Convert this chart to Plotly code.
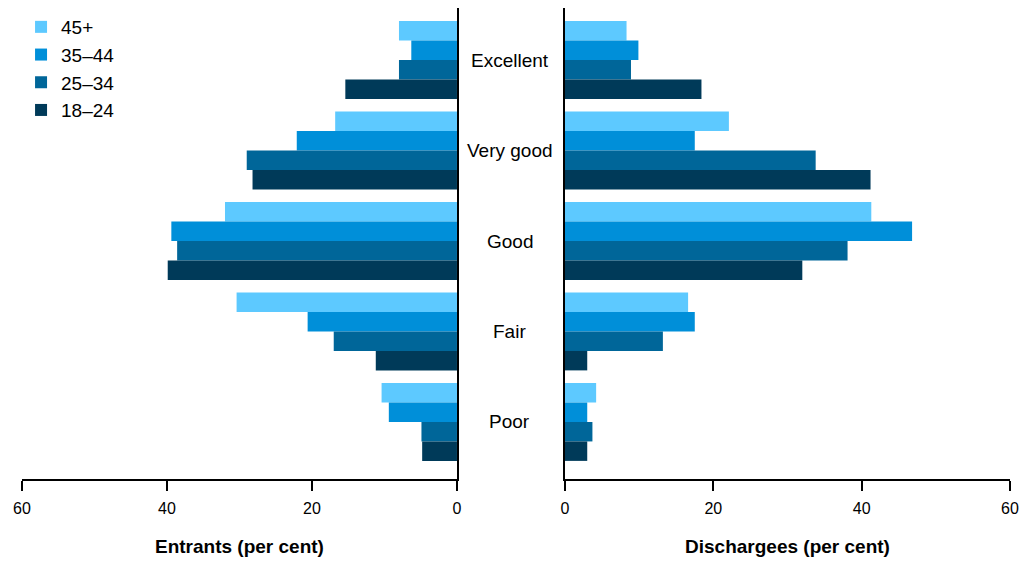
import plotly.graph_objects as go

categories = ["Excellent", "Very good", "Good", "Fair", "Poor"]
age_groups = ["45+", "35\u201344", "25\u201334", "18\u201324"]

# entrants (per cent), per age group, Excellent -> Poor
entrants = {
    "45+": [8.0, 16.8, 32.0, 30.4, 10.4],
    "35\u201344": [6.3, 22.1, 39.4, 20.6, 9.4],
    "25\u201334": [8.0, 29.0, 38.6, 17.0, 4.9],
    "18\u201324": [15.4, 28.2, 39.9, 11.2, 4.8],
}

# dischargees (per cent)
dischargees = {
    "45+": [8.3, 22.1, 41.3, 16.6, 4.2],
    "35\u201344": [9.9, 17.5, 46.8, 17.5, 3.0],
    "25\u201334": [8.9, 33.8, 38.1, 13.2, 3.7],
    "18\u201324": [18.4, 41.2, 32.0, 3.0, 3.0],
}

colors = {
    "45+": "#5DC9FF",
    "35\u201344": "#008FD9",
    "25\u201334": "#006699",
    "18\u201324": "#003A59",
}

FONT = "Liberation Sans, Arial, sans-serif"

fig = go.Figure()
for g in age_groups:
    fig.add_trace(go.Bar(
        y=categories, x=entrants[g], orientation="h",
        name=g, legendgroup=g,
        marker=dict(color=colors[g], line=dict(width=0)),
        xaxis="x", yaxis="y",
    ))
    fig.add_trace(go.Bar(
        y=categories, x=dischargees[g], orientation="h",
        name=g, legendgroup=g, showlegend=False,
        marker=dict(color=colors[g], line=dict(width=0)),
        xaxis="x2", yaxis="y2",
    ))

# category labels in the gap between panels
for c in categories:
    fig.add_annotation(
        x=0.4926, xref="paper", y=c, yref="y",
        text=c, showarrow=False,
        font=dict(size=19, color="black", family=FONT),
    )

axis_common = dict(
    tickvals=[0, 20, 40, 60],
    ticks="outside", ticklen=10, tickwidth=1.5, tickcolor="black",
    ticklabelstandoff=4,
    showline=True, linecolor="black", linewidth=1.5,
    showgrid=False, zeroline=False, automargin=False,
    tickfont=dict(size=16, color="black", family=FONT),
)

yaxis_common = dict(
    categoryorder="array", categoryarray=categories,
    range=[4.63, -0.575],
    showticklabels=False, ticks="",
    showgrid=False, zeroline=False, automargin=False,
    showline=True, linecolor="black", linewidth=2,
    domain=[0.1483, 1.0],
)

# page body has an 8px margin, so the figure is a bit smaller than the window
fig.update_layout(
    width=1019, height=553,
    margin=dict(l=0, r=0, t=0, b=0, autoexpand=False),
    plot_bgcolor="white", paper_bgcolor="white",
    barmode="group", bargap=0.14, bargroupgap=0,
    font=dict(family=FONT, size=16, color="black"),
    xaxis=dict(
        **axis_common,
        range=[60, 0], domain=[0.01374, 0.4406], anchor="y",
        title=dict(text="<b>Entrants (per cent)</b>", standoff=24,
                   font=dict(size=19, family=FONT)),
    ),
    xaxis2=dict(
        **axis_common,
        range=[0, 60], domain=[0.5466, 0.9833], anchor="y2",
        title=dict(text="<b>Dischargees (per cent)</b>", standoff=24,
                   font=dict(size=19, family=FONT)),
    ),
    yaxis=dict(**yaxis_common, anchor="x", side="right"),
    yaxis2=dict(**yaxis_common, anchor="x2", side="left"),
    legend=dict(
        x=0.0128, y=1.0, xanchor="left", yanchor="top",
        traceorder="normal", tracegroupgap=9,
        font=dict(size=19, family=FONT),
        bgcolor="rgba(0,0,0,0)",
    ),
)

fig.write_html("out.html")
